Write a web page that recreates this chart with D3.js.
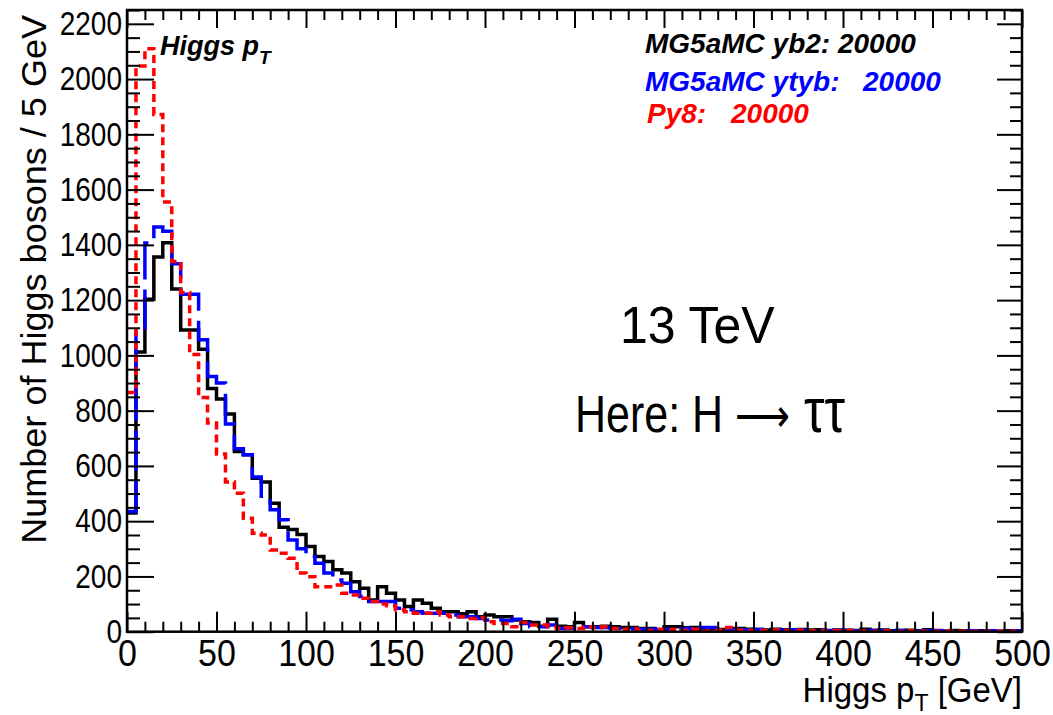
<!DOCTYPE html>
<html>
<head>
<meta charset="utf-8">
<script src="https://cdn.jsdelivr.net/npm/d3@7"></script>
<style>
  body { margin: 0; background: #fff; }
  svg { display: block; }
  text { font-family: "Liberation Sans", Arial, Helvetica, sans-serif; }
</style>
</head>
<body>
<svg id="chart" width="1053" height="715"></svg>
<script>
// Higgs pT, 5 GeV bins from 0 to 500 GeV
const binWidth = 5;

// MG5aMC yb2 (black, solid)
const yb2 = [
  430, 1012, 1203, 1356, 1408, 1240, 1092, 1092, 1022, 880,
  842, 788, 652, 640, 555, 542, 465, 378, 370, 352,
  308, 272, 254, 224, 212, 181, 157, 115, 163, 139,
  115, 91, 115, 103, 85, 72, 72, 65, 72, 54,
  60, 54, 54, 42, 36, 33, 20, 45, 20, 18,
  33, 18, 18, 20, 18, 15, 15, 12, 12, 6,
  18, 18, 14, 15, 12, 10, 8, 12, 12, 9,
  8, 6, 9, 7, 5, 8, 6, 7, 4, 6,
  5, 4, 9, 5, 6, 3, 4, 5, 3, 7,
  3, 2, 4, 3, 2, 3, 2, 1, 3, 2
];

// MG5aMC ytyb (blue, dashed)
const ytyb = [
  435, 1100, 1407, 1465, 1449, 1332, 1221, 1221, 1057, 924,
  900, 752, 662, 640, 560, 480, 441, 405, 332, 300,
  272, 248, 212, 187, 175, 145, 127, 109, 109, 109,
  85, 79, 72, 67, 67, 67, 60, 54, 54, 48,
  42, 42, 40, 45, 30, 18, 18, 24, 12, 12,
  18, 18, 15, 15, 12, 12, 10, 9, 9, 8,
  9, 12, 12, 9, 15, 15, 10, 8, 7, 6,
  8, 5, 6, 4, 7, 5, 4, 6, 3, 5,
  4, 3, 5, 3, 4, 2, 4, 3, 2, 3,
  4, 2, 3, 2, 3, 1, 3, 2, 2, 3
];

// Py8 (red, dotted)
const py8 = [
  866, 2047, 2110, 1872, 1555, 1340, 1228, 1003, 848, 755,
  643, 542, 501, 411, 356, 350, 296, 284, 266, 212,
  199, 163, 163, 169, 139, 133, 121, 109, 100, 94,
  79, 72, 67, 67, 72, 60, 54, 54, 48, 51,
  36, 30, 30, 18, 33, 24, 24, 18, 12, 14,
  12, 18, 14, 18, 12, 8, 12, 4, 4, 8,
  4, 9, 4, 9, 2, 4, 6, 15, 6, 4,
  5, 3, 6, 4, 2, 5, 3, 4, 2, 3,
  4, 2, 3, 1, 3, 2, 1, 3, 2, 1,
  2, 3, 1, 2, 1, 2, 1, 2, 1, 2
];

const xTicks = [0, 50, 100, 150, 200, 250, 300, 350, 400, 450, 500];
const yTicks = [0, 200, 400, 600, 800, 1000, 1200, 1400, 1600, 1800, 2000, 2200];

const series = [
  { name: 'MG5aMC yb2', values: yb2, color: '#000000', dash: null },
  { name: 'MG5aMC ytyb', values: ytyb, color: '#0000ff', dash: '40,10' },
  { name: 'Py8', values: py8, color: '#ff0000', dash: '8,5' }
];

const svg = d3.select('#chart');
const frame = { left: 127, right: 1022, top: 10, bottom: 631.7 };

const x = d3.scaleLinear().domain([0, 500]).range([frame.left, frame.right]);
const y = d3.scaleLinear().domain([0, 2250]).range([frame.bottom, frame.top]);

svg.append('rect')
  .attr('width', 1053).attr('height', 715).attr('fill', '#fff');

svg.append('defs').append('clipPath').attr('id', 'plot-clip')
  .append('rect')
  .attr('x', frame.left).attr('y', frame.top)
  .attr('width', frame.right - frame.left)
  .attr('height', frame.bottom - frame.top);

// histograms as steps
const step = d3.line()
  .x(d => x(d[0]))
  .y(d => y(d[1]))
  .curve(d3.curveStepAfter);

const toPoints = vals => {
  const pts = vals.map((v, i) => [i * binWidth, v]);
  pts.push([vals.length * binWidth, vals[vals.length - 1]]);
  return pts;
};

const hists = svg.append('g').attr('clip-path', 'url(#plot-clip)');
series.forEach(s => {
  hists.append('path')
    .attr('d', step(toPoints(s.values)))
    .attr('fill', 'none')
    .attr('stroke', s.color)
    .attr('stroke-width', 3.5)
    .attr('stroke-dasharray', s.dash)
    .attr('stroke-linejoin', 'miter');
});

// axes (ROOT style: ticks inside the frame)
const minorX = d3.range(0, 501, 10).filter(v => v % 50 !== 0);
const minorY = d3.range(0, 2251, 50).filter(v => v % 200 !== 0);

const styleAxis = g => {
  g.select('.domain').remove();
  g.selectAll('.tick line').attr('stroke', '#000').attr('stroke-width', 2);
};

svg.append('g')
  .attr('transform', `translate(0,${frame.bottom})`)
  .call(d3.axisBottom(x).tickValues(xTicks).tickSizeInner(-20).tickSizeOuter(0).tickFormat(d3.format('d')))
  .call(styleAxis)
  .call(g => g.selectAll('.tick text')
    .attr('font-size', 34).attr('fill', '#000')
    .attr('font-family', '"Liberation Sans", Arial, sans-serif')
    .attr('y', 0)
    .attr('transform', 'translate(0,8) scale(1,1.1)'));

svg.append('g')
  .attr('transform', `translate(0,${frame.bottom})`)
  .call(d3.axisBottom(x).tickValues(minorX).tickSizeInner(-10).tickSizeOuter(0).tickFormat(''))
  .call(styleAxis);

svg.append('g')
  .attr('transform', `translate(0,${frame.top})`)
  .call(d3.axisTop(x).tickValues(xTicks).tickSizeInner(-18).tickSizeOuter(0).tickFormat(''))
  .call(styleAxis);

svg.append('g')
  .attr('transform', `translate(0,${frame.top})`)
  .call(d3.axisTop(x).tickValues(minorX).tickSizeInner(-10).tickSizeOuter(0).tickFormat(''))
  .call(styleAxis);

svg.append('g')
  .attr('transform', `translate(${frame.left},0)`)
  .call(d3.axisLeft(y).tickValues(yTicks).tickSizeInner(-27).tickSizeOuter(0).tickFormat(d3.format('d')))
  .call(styleAxis)
  .call(g => g.selectAll('.tick text')
    .attr('font-size', 28).attr('fill', '#000')
    .attr('font-family', '"Liberation Sans", Arial, sans-serif')
    .attr('x', 0)
    .attr('transform', 'translate(-5,0) scale(1,1.2)'));

svg.append('g')
  .attr('transform', `translate(${frame.left},0)`)
  .call(d3.axisLeft(y).tickValues(minorY).tickSizeInner(-13).tickSizeOuter(0).tickFormat(''))
  .call(styleAxis);

svg.append('g')
  .attr('transform', `translate(${frame.right},0)`)
  .call(d3.axisRight(y).tickValues(yTicks).tickSizeInner(-25).tickSizeOuter(0).tickFormat(''))
  .call(styleAxis);

svg.append('g')
  .attr('transform', `translate(${frame.right},0)`)
  .call(d3.axisRight(y).tickValues(minorY).tickSizeInner(-12).tickSizeOuter(0).tickFormat(''))
  .call(styleAxis);

// frame
svg.append('rect')
  .attr('x', frame.left).attr('y', frame.top)
  .attr('width', frame.right - frame.left)
  .attr('height', frame.bottom - frame.top)
  .attr('fill', 'none').attr('stroke', '#000').attr('stroke-width', 2.5);

// axis titles
const xt = svg.append('text')
  .attr('transform', `translate(${frame.right},702) scale(1,1.08)`)
  .attr('text-anchor', 'end').attr('font-size', 33);
xt.append('tspan').text('Higgs p');
xt.append('tspan').attr('font-size', 23).attr('dy', 8).text('T');
xt.append('tspan').attr('dy', -8).text(' [GeV]');

svg.append('text')
  .attr('transform', 'translate(46,15) rotate(-90) scale(1.03,1)')
  .attr('text-anchor', 'end').attr('font-size', 35)
  .text('Number of Higgs bosons / 5 GeV');

// plot label
const lbl = svg.append('text')
  .attr('x', 160).attr('y', 55)
  .attr('font-size', 27).attr('font-weight', 'bold').attr('font-style', 'italic');
lbl.append('tspan').text('Higgs p');
lbl.append('tspan').attr('font-size', 19).attr('dy', 9).text('T');

// legend entries
const legend = [
  { label: 'MG5aMC yb2: 20000', color: '#000', x: 645, y: 53, num: null },
  { label: 'MG5aMC ytyb:', color: '#0000ff', x: 645, y: 91, num: { text: '20000', x: 863 } },
  { label: 'Py8:', color: '#ff0000', x: 647, y: 123, num: { text: '20000', x: 731 } }
];
legend.forEach(l => {
  const t = svg.append('g')
    .attr('fill', l.color)
    .attr('font-size', 28).attr('font-weight', 'bold').attr('font-style', 'italic');
  t.append('text').attr('x', l.x).attr('y', l.y).text(l.label);
  if (l.num) t.append('text').attr('x', l.num.x).attr('y', l.y).text(l.num.text);
});

svg.append('text')
  .attr('transform', 'translate(620,343) scale(1,1.05)')
  .attr('font-size', 50)
  .text('13 TeV');

const here = svg.append('g').attr('transform', 'translate(575,432) scale(1,1.2)');
here.append('text').attr('font-size', 43).text('Here: H');
here.append('text').attr('x', 160).attr('font-size', 38)
  .attr('font-family', '"DejaVu Sans", sans-serif').text('\u27f6');
here.append('text').attr('x', 229).attr('font-size', 52)
  .attr('font-family', '"Liberation Serif", "DejaVu Serif", serif').text('\u03c4\u03c4');
</script>
</body>
</html>
